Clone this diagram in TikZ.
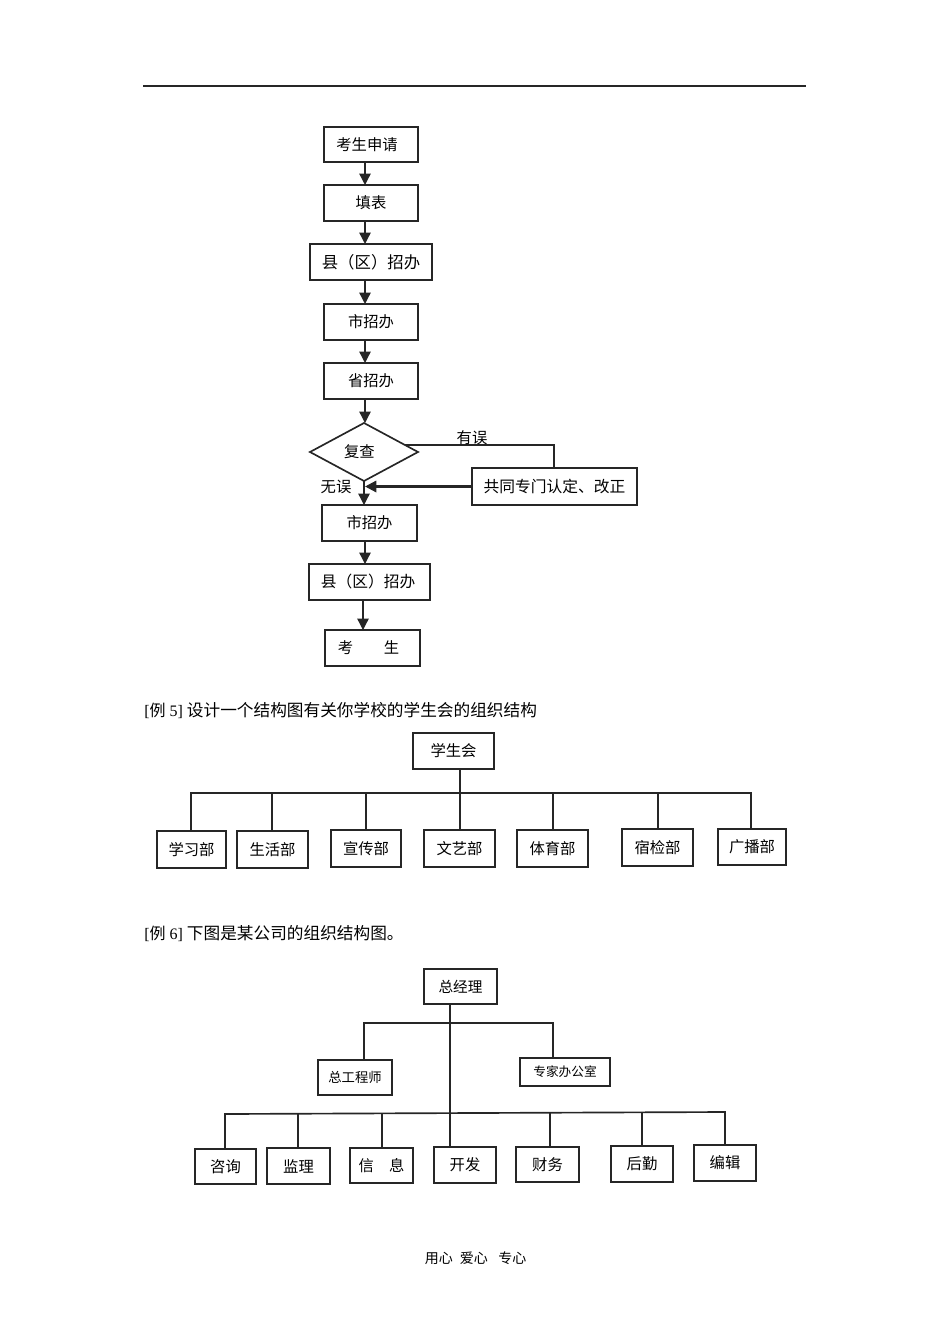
\documentclass[tikz,border=0pt]{standalone}
\usepackage{fontspec}
\setmainfont{Liberation Serif}
\newfontfamily\cjk{Noto Sans CJK SC}
\usetikzlibrary{arrows.meta,shapes.geometric}
\tikzset{
  boxn/.style={draw=black!85,line width=0.95pt,inner sep=0pt,outer sep=0pt,font=\cjk\fontsize{11.5}{14}\selectfont},
  conn/.style={draw=black!85,line width=1pt},
  heavy/.style={line width=1.25pt},
  arr/.style={conn,-{Triangle[length=8.5pt,width=8.5pt]}},
  para/.style={anchor=west,inner sep=0pt,font=\fontsize{12}{14}\selectfont},
  lab/.style={inner sep=0pt,font=\cjk\fontsize{11.5}{14}\selectfont}
}
\newcommand\bx[6]{\node[boxn,minimum width={(#4-#2)*0.75pt},minimum height={(#5-#3)*0.75pt}] (#1) at ({(#2+#4)/2},{(#3+#5)/2}) {#6};}
\begin{document}
\begin{tikzpicture}[x=0.75pt,y=-0.75pt]
\useasboundingbox (0,0) rectangle (950,1344);
\coordinate (ruleL) at (143,86);
\coordinate (ruleR) at (806,86);
\draw[conn] (ruleL) -- (ruleR);
% flow chart
\bx{a1}{324}{127}{418}{162}{考生申请\kern6pt}
\bx{a2}{324}{185}{418}{221}{填表}
\bx{a3}{310}{244}{432}{280}{\fontsize{12.3}{14}\selectfont 县（区）招办}
\bx{a4}{324}{304}{418}{340}{市招办}
\bx{a5}{324}{363}{418}{399}{省招办}
\node[boxn,heavy,shape=diamond,aspect=1.85,minimum width=81pt,minimum height=43.5pt] (dd) at (364,452) {复查\kern7pt};
\bx{fix}{472}{468}{637}{505}{\fontsize{11.8}{14}\selectfont 共同专门认定、改正}
\bx{a6}{322}{505}{417}{541}{市招办}
\bx{a7}{309}{564}{430}{600}{\fontsize{11.8}{14}\selectfont 县（区）招办\kern2pt}
\bx{a8}{325}{630}{420}{666}{考\hspace{2em}生\kern6pt}
\coordinate (fx) at (365,0);
\coordinate (fy) at (363,0);
\draw[arr] (fx |- a1.south) -- (fx |- a2.north);
\draw[arr] (fx |- a2.south) -- (fx |- a3.north);
\draw[arr] (fx |- a3.south) -- (fx |- a4.north);
\draw[arr] (fx |- a4.south) -- (fx |- a5.north);
\draw[arr] (fx |- a5.south) -- (fx |- dd.north);
\draw[arr] (dd.south) -- (dd.south |- a6.north);
\draw[arr] (fx |- a6.south) -- (fx |- a7.north);
\draw[arr] (fy |- a7.south) -- (fy |- a8.north);
\coordinate (errstart) at (405,445);
\coordinate (errcorner) at (554,445);
\draw[conn] (errstart) -- (errcorner) -- (errcorner |- fix.north);
\draw[arr,line width=1.7pt] (fix.west) -- (fx |- fix.west);
\node[lab] (yw) at (472,438) {有误};
\node[lab] (ww) at (336,487) {无误};
% para 5
\node[para] (p5) at (144,710) {[{\cjk 例} 5] {\cjk\fontsize{12.5}{14}\selectfont 设计一个结构图有关你学校的学生会的组织结构}};
\bx{s0}{413}{733}{494}{769}{学生会}
\bx{s1}{157}{831}{226}{868}{学习部}
\bx{s2}{237}{831}{308}{868}{生活部}
\bx{s3}{331}{830}{401}{867}{宣传部}
\bx{s4}{424}{830}{495}{867}{文艺部}
\bx{s5}{517}{830}{588}{867}{体育部}
\bx{s6}{622}{829}{693}{866}{宿检部}
\bx{s7}{718}{829}{786}{865}{广播部}
\coordinate (sb1) at (191,793);
\coordinate (sb2) at (272,793);
\coordinate (sb3) at (366,793);
\coordinate (sb4) at (460,793);
\coordinate (sb5) at (553,793);
\coordinate (sb6) at (658,793);
\coordinate (sb7) at (751,793);
\draw[conn] (sb1 |- s1.north) -- (sb1) -- (sb7) -- (sb7 |- s7.north);
\draw[conn] (sb4 |- s0.south) -- (sb4 |- s4.north);
\foreach \i in {2,3,5,6}{\draw[conn] (sb\i) -- (sb\i |- s\i.north);}
% para 6
\node[para] (p6) at (144,934) {[{\cjk 例} 6] {\cjk\fontsize{12.5}{14}\selectfont 下图是某公司的组织结构图。}};
\bx{c0}{424}{969}{497}{1004}{\fontsize{11}{14}\selectfont 总经理}
\bx{e1}{318}{1060}{392}{1095}{\fontsize{10}{14}\selectfont 总工程师}
\bx{e2}{520}{1058}{610}{1086}{\fontsize{9.5}{14}\selectfont 专家办公室}
\bx{c1}{195}{1149}{256}{1184}{咨询}
\bx{c2}{267}{1148}{330}{1184}{监理}
\bx{c3}{350}{1148}{413}{1183}{信\hspace{1em}息}
\bx{c4}{434}{1147}{496}{1183}{开发}
\bx{c5}{516}{1147}{579}{1182}{财务}
\bx{c6}{611}{1146}{673}{1182}{后勤}
\bx{c7}{694}{1145}{756}{1181}{编辑}
\coordinate (tb1) at (364,1023);
\coordinate (tb2) at (553,1023);
\draw[conn] (tb1 |- e1.north) -- (tb1) -- (tb2) -- (tb2 |- e2.north);
\coordinate (cb1) at (225,1114);
\coordinate (cb2) at (298,1114);
\coordinate (cb3) at (382,1114);
\coordinate (cb4) at (450,1113);
\coordinate (cb5) at (550,1113);
\coordinate (cb6) at (642,1112);
\coordinate (cb7) at (725,1112);
\draw[conn,heavy] (cb1 |- c1.north) -- (cb1) -- (cb7) -- (cb7 |- c7.north);
\draw[conn] (cb4 |- c0.south) -- (cb4 |- c4.north);
\foreach \i in {2,3,5,6}{\draw[conn] (cb\i) -- (cb\i |- c\i.north);}
\node[inner sep=0pt,font=\cjk\fontsize{10.5}{12}\selectfont] (foot) at (475.5,1258) {用心\hspace{0.5em}爱心\hspace{0.75em}专心};
\end{tikzpicture}
\end{document}
